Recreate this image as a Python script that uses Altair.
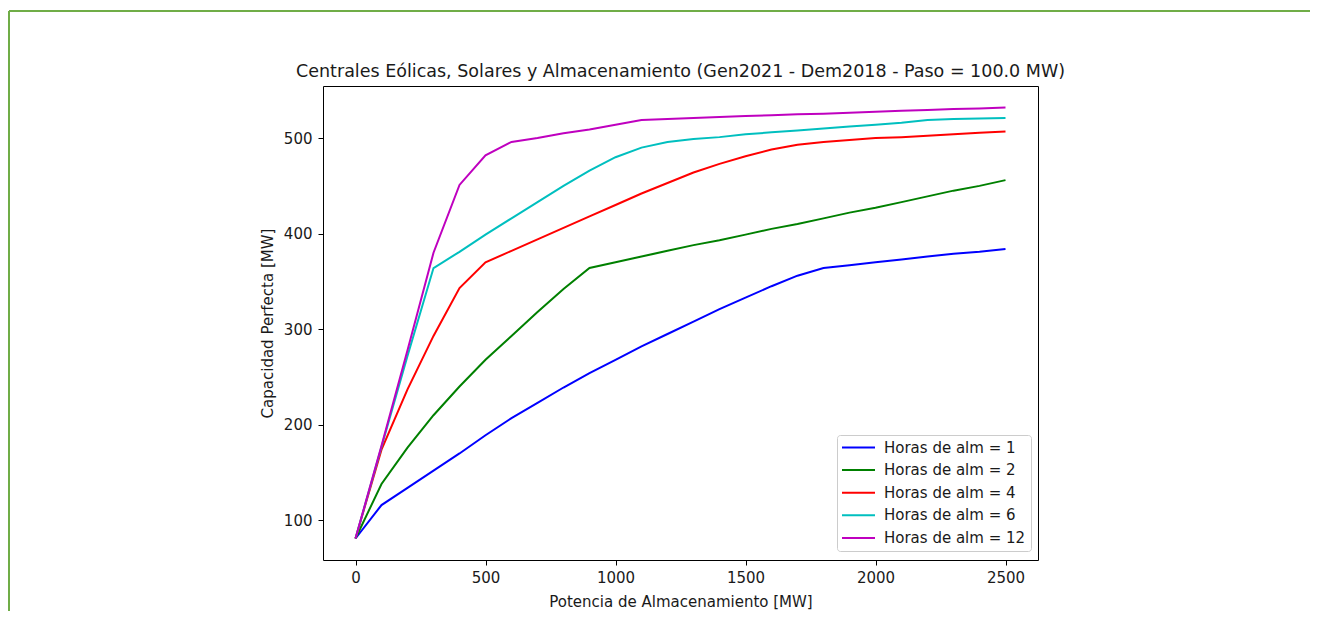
import altair as alt
import pandas as pd

# ---- data ----
potencia = [0, 100, 200, 300, 400, 500, 600, 700, 800, 900, 1000, 1100, 1200,
            1300, 1400, 1500, 1600, 1700, 1800, 1900, 2000, 2100, 2200, 2300, 2400, 2500]

horas_1 = [81, 116, 134, 152, 170, 189, 207, 223, 239, 254, 268, 282, 295,
           308, 321, 333, 345, 356, 364, 367, 370, 373, 376, 379, 381, 384]
horas_2 = [81, 138, 176, 210, 240, 268, 293, 318, 342, 364, 370, 376, 382,
           388, 393, 399, 405, 410, 416, 422, 427, 433, 439, 445, 450, 456]
horas_4 = [81, 174, 237, 293, 343, 370, 382, 394, 406, 418, 430, 442, 453,
           464, 473, 481, 488, 493, 496, 498, 500, 501, 502.5, 504, 505.5, 507]
horas_6 = [81, 177, 272, 364, 381, 399, 416, 433, 450, 466, 480, 490, 496,
           499, 501, 504, 506, 508, 510, 512, 514, 516, 519, 520, 520.5, 521]
horas_12 = [81, 178, 278, 380, 451, 482, 496, 500, 505, 509, 514, 519, 520,
            521, 522, 523, 524, 525, 525.5, 526.5, 527.5, 528.5, 529.5, 530.5, 531, 532]

series_labels = ["Horas de alm = 1", "Horas de alm = 2", "Horas de alm = 4",
                 "Horas de alm = 6", "Horas de alm = 12"]
series_values = [horas_1, horas_2, horas_4, horas_6, horas_12]

x_ticks = [0, 500, 1000, 1500, 2000, 2500]
y_ticks = [100, 200, 300, 400, 500]

title_text = "Centrales Eólicas, Solares y Almacenamiento (Gen2021 - Dem2018 - Paso = 100.0 MW)"
x_title = "Potencia de Almacenamiento [MW]"
y_title = "Capacidad Perfecta [MW]"

# ---- styles ----
colors = ["#0000ff", "#008000", "#ff0000", "#00bfbf", "#bf00bf"]
widths = [2.0, 2.0, 1.4, 1.4, 1.8]
FONT = "DejaVu Sans"
TXT = "#1a1a1a"
GREEN = "#70ad47"
FS = 15

rows = []
for lab, vals in zip(series_labels, series_values):
    for xv, yv in zip(potencia, vals):
        rows.append({"Potencia": xv, "Capacidad": yv, "Serie": lab})
df = pd.DataFrame(rows)

W, H = 715, 474
PAD_L, PAD_T = 315, 78
PAD_R = 1302 - PAD_L - W
PAD_B = 603 - PAD_T - H

legend_cfg = alt.Legend(
    title=None, orient="none", legendX=514, legendY=349,
    symbolType="M-3,0H3", symbolSize=121, symbolOffset=9,
    labelFont=FONT, labelFontSize=FS, labelColor=TXT, labelOffset=18,
    rowPadding=6.6, padding=5, strokeColor="#cccccc", fillColor="white",
    cornerRadius=3, labelLimit=300,
)

lines = alt.Chart(df).mark_line(clip=True).encode(
    x=alt.X("Potencia:Q",
            scale=alt.Scale(domain=[-125, 2625], nice=False, zero=False),
            axis=alt.Axis(values=x_ticks, title=x_title, format="d",
                          labelPadding=5, titlePadding=9)),
    y=alt.Y("Capacidad:Q",
            scale=alt.Scale(domain=[58.5, 554.5], nice=False, zero=False),
            axis=alt.Axis(values=y_ticks, title=y_title, format="d",
                          labelPadding=6, titlePadding=8)),
    color=alt.Color("Serie:N", sort=series_labels,
                    scale=alt.Scale(domain=series_labels, range=colors),
                    legend=legend_cfg),
    strokeWidth=alt.StrokeWidth("Serie:N", sort=series_labels,
                                scale=alt.Scale(domain=series_labels, range=widths),
                                legend=legend_cfg),
    order=alt.Order("Potencia:Q"),
)

deco = pd.DataFrame({"k": [0]})
border_top = alt.Chart(deco).mark_rule(color=GREEN, strokeWidth=2).encode(
    x=alt.value(-314), x2=alt.value(PAD_R + W), y=alt.value(-75))
border_left = alt.Chart(deco).mark_rule(color=GREEN, strokeWidth=2).encode(
    x=alt.value(-314), y=alt.value(-75), y2=alt.value(H + PAD_B))

title_mark = alt.Chart(deco).mark_text(
    font=FONT, fontSize=17.5, color=TXT, align="center", baseline="middle"
).encode(x=alt.value(W / 2), y=alt.value(-14), text=alt.value(title_text))

chart = alt.layer(lines, border_top, border_left, title_mark).properties(
    width=W, height=H,
    autosize=alt.AutoSizeParams(type="none"),
    padding={"left": PAD_L, "top": PAD_T, "right": PAD_R, "bottom": PAD_B},
    background="white",
).configure_view(
    stroke="black", strokeWidth=1,
).configure_axis(
    grid=False, domain=False, ticks=True, tickSize=5, tickColor="black", tickWidth=1,
    labelFont=FONT, labelFontSize=FS, labelColor=TXT,
    titleFont=FONT, titleFontSize=FS, titleColor=TXT, titleFontWeight="normal",
)

chart.save("out.html", embed_options={"renderer": "svg", "actions": False})
